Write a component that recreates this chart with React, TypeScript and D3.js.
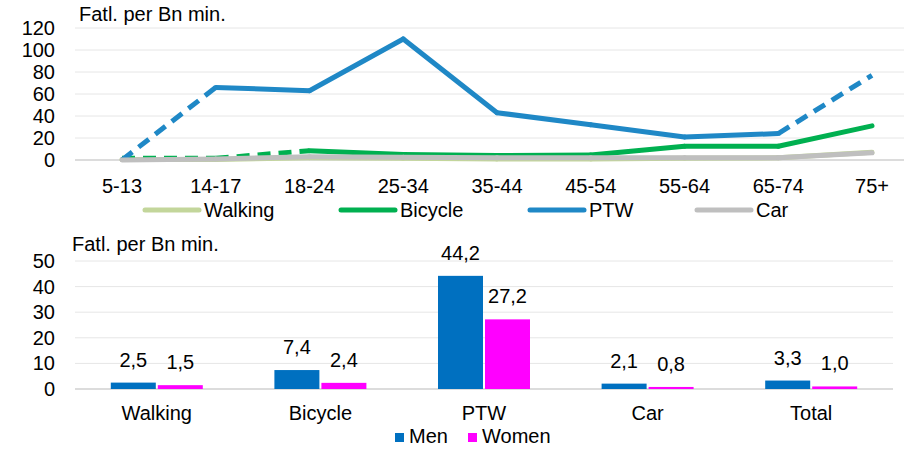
import React from "react";
import * as d3 from "d3";

const ageGroups = ["5-13", "14-17", "18-24", "25-34", "35-44", "45-54", "55-64", "65-74", "75+"];
const walking = [0.5, 0.5, 2, 1.5, 1, 1, 1.5, 2, 7];
const bicycle = [1.5, 1.5, 8.5, 5, 4, 4.5, 12.5, 12.5, 31];
const ptw = [0, 66, 63, 110, 43, 32, 21, 24, 77];
const car = [0, 1, 3, 2.5, 2, 2, 2, 2, 6.5];
// segment index i means segment from point i to i+1 is dashed
const walkingDashed: number[] = [];
const bicycleDashed = [0, 1];
const ptwDashed = [0, 7];
const carDashed: number[] = [];
const lineTicks = [0, 20, 40, 60, 80, 100, 120];

const modes = ["Walking", "Bicycle", "PTW", "Car", "Total"];
const men = [2.5, 7.4, 44.2, 2.1, 3.3];
const women = [1.5, 2.4, 27.2, 0.8, 1.0];
const menLabels = ["2,5", "7,4", "44,2", "2,1", "3,3"];
const womenLabels = ["1,5", "2,4", "27,2", "0,8", "1,0"];
const barTicks = [0, 10, 20, 30, 40, 50];

const FONT = "'Liberation Sans', Arial, sans-serif";
const FS = 20;

export default function App() {
  const W = 904;
  const H = 449;

  // top line chart
  const x = d3.scalePoint<string>().domain(ageGroups).range([122, 872]);
  const y = d3.scaleLinear().domain([0, 120]).range([160, 28]);
  const series = [
    { name: "Walking", values: walking, dashed: walkingDashed, color: "#C3D69B" },
    { name: "Bicycle", values: bicycle, dashed: bicycleDashed, color: "#00B050" },
    { name: "PTW", values: ptw, dashed: ptwDashed, color: "#1F88C6" },
    { name: "Car", values: car, dashed: carDashed, color: "#BFBFBF" },
  ];
  const line = d3
    .line<[number, number]>()
    .x((d) => d[0])
    .y((d) => d[1]);
  const legendX = [145, 341, 530, 697];

  // bottom bar chart
  const xb = d3.scaleBand<string>().domain(modes).range([75, 893]);
  const yb = d3.scaleLinear().domain([0, 50]).range([389, 261]);
  const barW = 45;
  const gap = 2;

  return (
    <svg width={W} height={H} style={{ position: "absolute", left: 0, top: 0 }} fontFamily={FONT}>
      <rect width={W} height={H} fill="#fff" />
      {/* ===== Top chart ===== */}
      <text x={79} y={21} fontSize={FS} fill="#000">Fatl. per Bn min.</text>
      {lineTicks.map((t) => (
        <g key={t}>
          <line x1={75} x2={904} y1={y(t)} y2={y(t)} stroke={t === 0 ? "#D0D0D0" : "#E6E6E6"} strokeWidth={t === 0 ? 1.5 : 1} />
          <text x={55} y={y(t) + 7} fontSize={FS} textAnchor="end" fill="#000">{t}</text>
        </g>
      ))}
      {ageGroups.map((g) => (
        <text key={g} x={x(g)} y={193} fontSize={FS} textAnchor="middle" fill="#000">{g}</text>
      ))}
      {series.map((s) => (
        <g key={s.name}>
          {s.values.slice(0, -1).map((v, i) => {
            const pts: [number, number][] = [
              [x(ageGroups[i])!, y(v)],
              [x(ageGroups[i + 1])!, y(s.values[i + 1])],
            ];
            const dashed = s.dashed.includes(i);
            return (
              <path
                key={i}
                d={line(pts) || ""}
                fill="none"
                stroke={s.color}
                strokeWidth={5}
                strokeLinecap={dashed ? "butt" : "round"}
                strokeDasharray={dashed ? "13,8" : undefined}
              />
            );
          })}
        </g>
      ))}
      {series.map((s, i) => (
        <g key={s.name}>
          <line x1={legendX[i]} x2={legendX[i] + 54} y1={210} y2={210} stroke={s.color} strokeWidth={5} strokeLinecap="round" />
          <text x={legendX[i] + 59} y={217} fontSize={FS} fill="#000">{s.name}</text>
        </g>
      ))}

      {/* ===== Bottom chart ===== */}
      <text x={72} y={251} fontSize={FS} fill="#000">Fatl. per Bn min.</text>
      {barTicks.map((t) => (
        <g key={t}>
          <line x1={75} x2={893} y1={yb(t)} y2={yb(t)} stroke={t === 0 ? "#D0D0D0" : "#E6E6E6"} strokeWidth={t === 0 ? 1.5 : 1} />
          <text x={55} y={yb(t) + 7} fontSize={FS} textAnchor="end" fill="#000">{t}</text>
        </g>
      ))}
      {modes.map((m, i) => {
        const cx = xb(m)! + xb.bandwidth() / 2;
        const mx = cx - gap / 2 - barW;
        const wx = cx + gap / 2;
        return (
          <g key={m}>
            <rect x={mx} y={yb(men[i])} width={barW} height={yb(0) - yb(men[i])} fill="#0070C0" />
            <rect x={wx} y={yb(women[i])} width={barW} height={yb(0) - yb(women[i])} fill="#FF00FF" />
            <text x={mx + barW / 2} y={yb(men[i]) - 16} fontSize={FS} textAnchor="middle" fill="#000">{menLabels[i]}</text>
            <text x={wx + barW / 2} y={yb(women[i]) - 16} fontSize={FS} textAnchor="middle" fill="#000">{womenLabels[i]}</text>
            <text x={cx} y={420} fontSize={FS} textAnchor="middle" fill="#000">{m}</text>
          </g>
        );
      })}
      <rect x={395} y={433} width={9} height={9} fill="#0070C0" />
      <text x={409} y={443} fontSize={FS} fill="#000">Men</text>
      <rect x={468} y={433} width={9} height={9} fill="#FF00FF" />
      <text x={482} y={443} fontSize={FS} fill="#000">Women</text>
    </svg>
  );
}
